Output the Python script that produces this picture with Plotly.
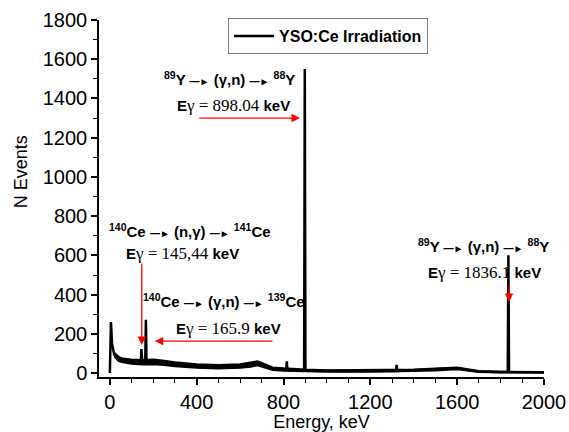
import plotly.graph_objects as go

# Spectrum (keV, counts)
energy = [0, 5, 10, 20, 30, 40, 60, 80, 100, 120, 140, 143, 145, 147, 150, 163, 166, 169,
          180, 200, 250, 300, 350, 400, 450, 500, 550, 600, 650, 680, 700, 720, 750, 800,
          812, 815, 818, 850, 895, 898, 901, 950, 1000, 1100, 1200, 1300, 1318, 1321, 1324,
          1400, 1500, 1550, 1590, 1620, 1650, 1700, 1750, 1800, 1833, 1836, 1839, 1900, 2000]
counts = [0, 260, 150, 95, 80, 72, 65, 60, 58, 56, 55, 55, 122, 55, 55, 56, 272, 56,
          56, 57, 52, 45, 40, 36, 34, 32, 33, 36, 42, 50, 42, 30, 22, 18,
          18, 60, 18, 15, 14, 1550, 13, 12, 11, 11, 11, 11, 11, 42, 11,
          14, 18, 22, 25, 22, 15, 8, 5, 5, 5, 600, 5, 5, 4]

# Statistical-noise band of the background
band_energy = [20, 40, 60, 100, 150, 200, 250, 300, 400, 500, 600, 650, 680, 700, 750,
               800, 900, 1000, 1200, 1400, 1500, 1600, 1700, 1800, 2000]
band_high = [106, 84, 76, 70, 68, 70, 64, 56, 46, 42, 46, 53, 61, 53, 30,
             26, 19, 16, 16, 19, 24, 30, 12, 8, 7]
band_low = [84, 60, 54, 46, 42, 44, 40, 34, 26, 22, 26, 31, 39, 31, 14,
            10, 7, 6, 6, 9, 12, 18, 4, 2, 1]

series_name = "YSO:Ce Irradiation"
x_ticks = [0, 400, 800, 1200, 1600, 2000]
y_ticks = [0, 200, 400, 600, 800, 1000, 1200, 1400, 1600, 1800]

SANS = "Liberation Sans, Arial, sans-serif"
SERIF = "Liberation Serif, Times New Roman, serif"
ARW = "<span style='font-size:10px'>\u2014\u25ba</span>"
GAMMA = "<span style='font-family:" + SERIF + ";font-size:17px'>\u03b3</span>"

fig = go.Figure()
fig.add_trace(go.Scatter(x=band_energy, y=band_low, mode="lines", showlegend=False,
                         hoverinfo="skip", line=dict(color="black", width=1.5)))
fig.add_trace(go.Scatter(x=band_energy, y=band_high, mode="lines", showlegend=False,
                         hoverinfo="skip", fill="tonexty", fillcolor="black",
                         line=dict(color="black", width=1.5)))
fig.add_trace(go.Scatter(x=energy, y=counts, mode="lines", name=series_name,
                         line=dict(color="black", width=2.5)))


def eg(val):
    return ("<b>E</b>" + GAMMA + " <span style='font-family:" + SERIF +
            ";font-size:17px'>= " + val + "</span> <b>keV</b>")


def reaction(a, an, mid, b, bn):
    return ("<b><sup>%s</sup>%s %s %s %s <sup>%s</sup>%s</b>" % (an, a, ARW, mid, ARW, bn, b))


texts = [
    (reaction("Y", "89", "(\u03b3,n)", "Y", "88"), 553, 1504),
    (eg("898.04"), 571, 1366),
    (reaction("Y", "89", "(\u03b3,n)", "Y", "88"), 1722, 652),
    (eg("1836.1"), 1727, 515),
    (reaction("Ce", "140", "(n,\u03b3)", "Ce", "141"), 368, 729),
    (eg("145,44"), 336, 612),
    (reaction("Ce", "140", "(\u03b3,n)", "Ce", "139"), 525, 372),
    (eg("165.9"), 548, 229),
]
for t, x, y in texts:
    fig.add_annotation(x=x, y=y, xref="x", yref="y", text=t, showarrow=False,
                       font=dict(family=SANS, size=15, color="black"))

# red arrows: (tip x, tip y, tail x, tail y)
arrows = [
    (876, 1300, 405, 1300),
    (1839, 362, 1839, 459),
    (147, 143, 147, 566),
    (207, 163, 756, 163),
]
for x, y, ax, ay in arrows:
    fig.add_annotation(x=x, y=y, ax=ax, ay=ay, xref="x", yref="y", axref="x", ayref="y",
                       text="", showarrow=True, arrowhead=2, arrowsize=1.3,
                       arrowwidth=1.3, arrowcolor="red")

# y-axis title (placed above centre, as in the original)
fig.add_annotation(x=-0.175, y=0.574, xref="paper", yref="paper", text="N Events",
                   textangle=-90, showarrow=False, xanchor="center", yanchor="middle",
                   font=dict(family=SANS, size=18, color="black"))

fig.update_layout(
    width=569, height=432,
    margin=dict(l=99, r=25, t=20, b=55),
    paper_bgcolor="white", plot_bgcolor="white",
    font=dict(family=SANS, color="black"),
    showlegend=True,
    legend=dict(x=0.29, y=1.005, xanchor="left", yanchor="top",
                bgcolor="white", bordercolor="#808080", borderwidth=1,
                font=dict(family=SANS, size=16, weight="bold"),
                itemwidth=40, tracegroupgap=0),
    xaxis=dict(range=[-50, 2000], tickvals=x_ticks, showline=True, linecolor="black",
               linewidth=1.5, ticks="outside", ticklen=6, tickwidth=1.5,
               tickcolor="black", showgrid=False, zeroline=False, automargin=False,
               tickfont=dict(size=20),
               minor=dict(ticks="outside", ticklen=4, tickwidth=1.2, dtick=100,
                          tickcolor="black", showgrid=False),
               title=dict(text="Energy, keV", font=dict(size=18), standoff=6)),
    yaxis=dict(range=[-20, 1800], tickvals=y_ticks, showline=True, linecolor="black",
               linewidth=1.5, ticks="outside", ticklen=6, tickwidth=1.5,
               tickcolor="black", showgrid=False, zeroline=False, automargin=False,
               tickfont=dict(size=20),
               minor=dict(ticks="outside", ticklen=4, tickwidth=1.2, dtick=100,
                          tickcolor="black", showgrid=False)),
)

fig.write_html("out.html", config={"displayModeBar": False},
               post_script="document.body.style.margin='0';document.body.style.overflow='hidden';")
